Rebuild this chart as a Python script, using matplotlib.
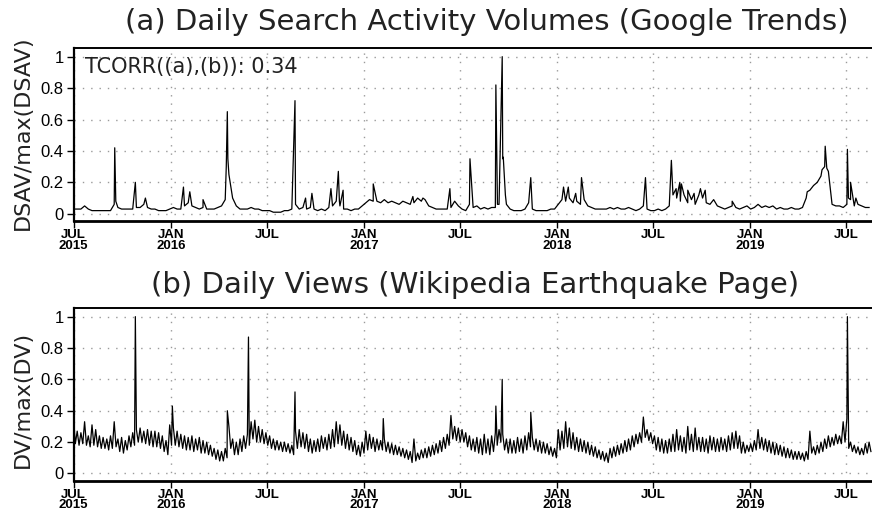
import datetime as dt
import numpy as np
import matplotlib
matplotlib.use("Agg")
import matplotlib.pyplot as plt
import matplotlib.dates as mdates

start = dt.date(2015, 7, 1)
end = dt.date(2019, 8, 29)

# (a) Google Trends: weekly background level, one value per week from 1 Jul 2015
a_base = [
    0.03, 0.03, 0.03, 0.05, 0.03,  0.02, 0.02, 0.02, 0.02,  0.02, 0.02, 0.06, 0.04,      # 2015 Jul-Sep
    0.03, 0.03, 0.03, 0.03, 0.04,  0.04, 0.06, 0.04, 0.03,  0.03, 0.02, 0.02, 0.02, 0.03,  # Oct-Dec
    0.04, 0.03, 0.03, 0.05,  0.07, 0.05, 0.04, 0.03,  0.04, 0.03, 0.03, 0.03, 0.04,      # 2016 Jan-Mar
    0.05, 0.09, 0.25, 0.10,  0.05, 0.03, 0.03, 0.03,  0.04, 0.03, 0.03, 0.02, 0.02,      # Apr-Jun
    0.02, 0.01, 0.01, 0.01,  0.02, 0.02, 0.03, 0.06,  0.03, 0.04, 0.03, 0.04, 0.03,      # Jul-Sep
    0.02, 0.03, 0.02, 0.04,  0.05, 0.08, 0.05, 0.03,  0.03, 0.02, 0.03, 0.03, 0.05,      # Oct-Dec
    0.07, 0.09, 0.08, 0.08,  0.07, 0.09, 0.07, 0.08,  0.07, 0.06, 0.08, 0.07, 0.06,      # 2017 Jan-Mar
    0.07, 0.10, 0.08, 0.09,  0.05, 0.04, 0.03, 0.03, 0.03,  0.03, 0.04, 0.08, 0.05,      # Apr-Jun
    0.03, 0.02, 0.06, 0.04,  0.05, 0.03, 0.04, 0.03, 0.04,  0.04, 0.06, 0.35, 0.06,      # Jul-Sep
    0.03, 0.02, 0.02, 0.02,  0.03, 0.07, 0.03, 0.02, 0.02,  0.02, 0.02, 0.03, 0.03,      # Oct-Dec
    0.06, 0.09, 0.08, 0.10, 0.07,  0.08, 0.06, 0.09, 0.05,  0.04, 0.03, 0.03, 0.03,      # 2018 Jan-Mar
    0.03, 0.04, 0.03, 0.04, 0.03,  0.03, 0.04, 0.03, 0.02,  0.03, 0.05, 0.03, 0.02,      # Apr-Jun
    0.02, 0.03, 0.02, 0.03, 0.05,  0.12, 0.10, 0.08, 0.12,  0.07, 0.09, 0.06, 0.12,      # Jul-Sep
    0.10, 0.07, 0.06, 0.09, 0.05,  0.04, 0.03, 0.04, 0.05,  0.04, 0.03, 0.04, 0.05,      # Oct-Dec
    0.03, 0.04, 0.06, 0.04, 0.05,  0.04, 0.05, 0.03, 0.04,  0.03, 0.03, 0.04, 0.03,      # 2019 Jan-Mar
    0.03, 0.04, 0.10, 0.15, 0.18,  0.20, 0.24, 0.30, 0.27,  0.06, 0.05, 0.05, 0.04,      # Apr-Jun
    0.06, 0.09, 0.05, 0.06,  0.05, 0.04, 0.04,                                         # Jul-Aug
]
# (a) spikes: day after 1 Jul 2015 and value
a_spike_day = [78, 80, 117, 136, 208, 220, 245, 289, 291, 292, 419, 439, 451,
               487, 501, 503, 510, 567, 642, 661, 712, 750, 799, 802, 811, 813,
               817, 865, 927, 936, 950, 961, 1082, 1131, 1140, 1147, 1150, 1162,
               1174, 1186, 1195, 1246, 1388, 1416, 1422, 1425, 1464, 1466, 1470, 1480]
a_spike_val = [0.42, 0.08, 0.20, 0.10, 0.17, 0.14, 0.09, 0.30, 0.65, 0.35, 0.72, 0.10, 0.13,
               0.16, 0.27, 0.08, 0.15, 0.19, 0.11, 0.10, 0.16, 0.35, 0.82, 0.06, 1.00, 0.36,
               0.12, 0.23, 0.17, 0.17, 0.13, 0.23, 0.23, 0.34, 0.16, 0.20, 0.19, 0.15,
               0.13, 0.16, 0.15, 0.08, 0.14, 0.28, 0.43, 0.29, 0.41, 0.10, 0.20, 0.10]

# (b) Wikipedia views: weekly crest and trough values from 1 Jul 2015
b_hi = [
    0.35, 0.27, 0.26, 0.33, 0.24,  0.31, 0.28, 0.24, 0.23,  0.22, 0.24, 0.33, 0.22,      # 2015 Jul-Sep
    0.23, 0.21, 0.24, 0.26, 0.28,  0.29, 0.27, 0.28, 0.27,  0.27, 0.26, 0.24, 0.21, 0.31,  # Oct-Dec
    0.29, 0.27, 0.25, 0.24,  0.23, 0.24, 0.22, 0.23,  0.21, 0.20, 0.18, 0.16, 0.15,      # 2016 Jan-Mar
    0.14, 0.16, 0.30, 0.22,  0.20, 0.22, 0.24, 0.25,  0.33, 0.34, 0.30, 0.28, 0.26,      # Apr-Jun
    0.24, 0.22, 0.21, 0.20,  0.20, 0.19, 0.18, 0.27,  0.28, 0.26, 0.25, 0.22, 0.21,      # Jul-Sep
    0.22, 0.24, 0.23, 0.25,  0.28, 0.33, 0.31, 0.27,  0.25, 0.23, 0.21, 0.18, 0.20,      # Oct-Dec
    0.27, 0.25, 0.23, 0.22,  0.21, 0.22, 0.20, 0.19,  0.18, 0.17, 0.16, 0.15, 0.14,      # 2017 Jan-Mar
    0.22, 0.13, 0.15, 0.16,  0.17, 0.18, 0.19, 0.21, 0.23,  0.25, 0.37, 0.30, 0.29,      # Apr-Jun
    0.28, 0.26, 0.24, 0.22,  0.23, 0.22, 0.25, 0.22, 0.24,  0.26, 0.28, 0.25, 0.22,      # Jul-Sep
    0.22, 0.21, 0.23, 0.22,  0.24, 0.26, 0.23, 0.22, 0.21,  0.20, 0.19, 0.17, 0.16,      # Oct-Dec
    0.28, 0.27, 0.33, 0.29, 0.26,  0.23, 0.22, 0.21, 0.20,  0.18, 0.17, 0.15, 0.14,      # 2018 Jan-Mar
    0.13, 0.16, 0.17, 0.18, 0.19,  0.21, 0.22, 0.24, 0.25,  0.26, 0.36, 0.28, 0.26,      # Apr-Jun
    0.24, 0.23, 0.22, 0.21, 0.22,  0.25, 0.28, 0.24, 0.23,  0.30, 0.25, 0.29, 0.23,      # Jul-Sep
    0.23, 0.22, 0.24, 0.23, 0.22,  0.23, 0.22, 0.24, 0.26,  0.27, 0.24, 0.20, 0.18,      # Oct-Dec
    0.19, 0.21, 0.28, 0.23, 0.22,  0.21, 0.20, 0.19, 0.18,  0.17, 0.16, 0.15, 0.14,      # 2019 Jan-Mar
    0.14, 0.13, 0.14, 0.27, 0.17,  0.18, 0.20, 0.22, 0.24,  0.23, 0.25, 0.24, 0.33,      # Apr-Jun
    0.35, 0.20, 0.18, 0.17,  0.16, 0.19, 0.20,                                         # Jul-Aug
]
b_lo = [
    0.19, 0.18, 0.19, 0.18, 0.17,  0.18, 0.17, 0.16, 0.16,  0.15, 0.16, 0.17, 0.14,
    0.13, 0.15, 0.17, 0.18, 0.20,  0.20, 0.19, 0.18, 0.17,  0.17, 0.16, 0.14, 0.12, 0.18,
    0.18, 0.17, 0.16, 0.15,  0.15, 0.14, 0.15, 0.13,  0.13, 0.12, 0.11, 0.09, 0.08,
    0.08, 0.10, 0.16, 0.12,  0.12, 0.14, 0.16, 0.18,  0.22, 0.20, 0.20, 0.19, 0.18,
    0.16, 0.15, 0.15, 0.14,  0.14, 0.13, 0.12, 0.16,  0.17, 0.16, 0.14, 0.13, 0.14,
    0.14, 0.16, 0.15, 0.16,  0.17, 0.19, 0.18, 0.16,  0.15, 0.14, 0.12, 0.11, 0.13,
    0.15, 0.16, 0.14, 0.15,  0.15, 0.14, 0.13, 0.12,  0.12, 0.11, 0.10, 0.09, 0.07,
    0.08, 0.09, 0.10, 0.10,  0.11, 0.12, 0.13, 0.14, 0.16,  0.18, 0.22, 0.21, 0.20,
    0.20, 0.17, 0.15, 0.14,  0.13, 0.12, 0.13, 0.12, 0.14,  0.18, 0.20, 0.15, 0.13,
    0.13, 0.13, 0.14, 0.13,  0.15, 0.17, 0.15, 0.14, 0.13,  0.13, 0.12, 0.11, 0.10,
    0.15, 0.16, 0.17, 0.16, 0.15,  0.14, 0.14, 0.13, 0.12,  0.11, 0.10, 0.09, 0.08,
    0.07, 0.10, 0.11, 0.12, 0.13,  0.14, 0.15, 0.17, 0.19,  0.20, 0.23, 0.21, 0.19,
    0.15, 0.14, 0.13, 0.13, 0.14,  0.14, 0.15, 0.14, 0.13,  0.15, 0.14, 0.15, 0.14,
    0.14, 0.13, 0.15, 0.14, 0.14,  0.15, 0.14, 0.15, 0.16,  0.16, 0.13, 0.13, 0.14,
    0.14, 0.15, 0.16, 0.15, 0.14,  0.13, 0.12, 0.12, 0.11,  0.10, 0.10, 0.09, 0.09,
    0.09, 0.08, 0.09, 0.13, 0.12,  0.13, 0.14, 0.16, 0.17,  0.18, 0.19, 0.19, 0.20,
    0.16, 0.14, 0.13, 0.12,  0.12, 0.13, 0.14,
]
b_spike_day = [117, 187, 291, 331, 419, 586, 799, 811, 865, 1464]
b_spike_val = [1.00, 0.43, 0.40, 0.87, 0.52, 0.35, 0.43, 0.60, 0.39, 1.00]

tick_dates = [dt.date(y, m, 1) for y in range(2015, 2020) for m in (1, 7)][1:]
tick_labels = ["JUL\n2015", "JAN\n2016", "JUL", "JAN\n2017", "JUL",
               "JAN\n2018", "JUL", "JAN\n2019", "JUL"]
y_ticks = [0, 0.2, 0.4, 0.6, 0.8, 1]
y_labels = ["0", "0.2", "0.4", "0.6", "0.8", "1"]


def merged(days, vals):
    days = np.asarray(days, dtype=float)
    vals = np.asarray(vals, dtype=float)
    order = np.argsort(days, kind="stable")
    return mdates.date2num(start) + days[order], vals[order]


weeks_a = np.arange(len(a_base)) * 7.0
xa, ya = merged(np.concatenate([weeks_a, a_spike_day]), np.concatenate([a_base, a_spike_val]))

weeks_b = np.arange(len(b_hi)) * 7.0
xb, yb = merged(np.concatenate([weeks_b, weeks_b + 3.5, b_spike_day]),
                np.concatenate([b_hi, b_lo, b_spike_val]))

tick_font = ["Liberation Sans Narrow", "Liberation Sans", "DejaVu Sans"]
text_font = ["DejaVu Sans"]

fig = plt.figure(figsize=(8.72, 5.14), dpi=100)
W, H = 872.0, 514.0
ax1 = fig.add_axes([73.5 / W, 1 - 221 / H, (877 - 73.5) / W, (221 - 47.7) / H])
ax2 = fig.add_axes([73.5 / W, 1 - 480.7 / H, (877 - 73.5) / W, (480.7 - 307.7) / H])

for ax, x, y in ((ax1, xa, ya), (ax2, xb, yb)):
    ax.plot(x, y, color="black", linewidth=0.9)
    ax.set_xlim(start, end)
    ax.set_ylim(-0.046, 1.057)
    ax.set_xticks(tick_dates)
    ax.set_xticklabels(tick_labels, fontfamily=tick_font, fontweight="bold",
                       fontsize=9.5, linespacing=0.8)
    ax.set_yticks(y_ticks)
    ax.set_yticklabels(y_labels, fontfamily=tick_font, fontsize=12)
    ax.tick_params(axis="both", direction="out", length=5, width=1, color="black")
    ax.tick_params(axis="x", pad=1)
    ax.tick_params(axis="y", pad=2)
    ax.grid(True, color="#9a9a9a", linestyle=(0, (1, 5)), linewidth=1)
    ax.spines["right"].set_visible(False)
    ax.spines["left"].set_linewidth(1.6)
    ax.spines["top"].set_linewidth(1.4)
    ax.spines["bottom"].set_linewidth(2.0)

fig.text(487 / W, 1 - 22 / H, "(a) Daily Search Activity Volumes (Google Trends)",
         ha="center", va="center", fontsize=21, fontfamily=text_font, color="#222222")
fig.text(475 / W, 1 - 285 / H, "(b) Daily Views (Wikipedia Earthquake Page)",
         ha="center", va="center", fontsize=21, fontfamily=text_font, color="#222222")
fig.text(23 / W, 1 - 133 / H, "DSAV/max(DSAV)", rotation=90,
         ha="center", va="center", fontsize=16, fontfamily=text_font, color="#222222")
fig.text(23 / W, 1 - 399 / H, "DV/max(DV)", rotation=90,
         ha="center", va="center", fontsize=16, fontfamily=text_font, color="#222222")
fig.text(85 / W, 1 - 67 / H, "TCORR((a),(b)): 0.34", ha="left", va="center",
         fontsize=15, fontfamily=text_font, color="#222222")

fig.savefig("out.png", dpi=100)
